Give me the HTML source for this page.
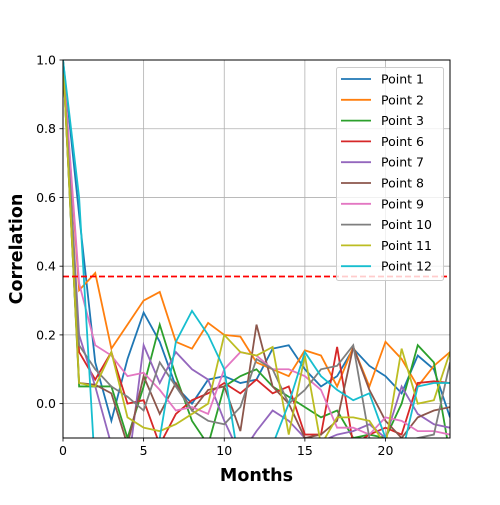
<!DOCTYPE html>
<html><head><meta charset="utf-8"><style>
body{margin:0;background:#fff}
svg text{font-family:"DejaVu Sans","Liberation Sans",sans-serif}
</style></head><body>
<svg id="c" width="500" height="500" xmlns="http://www.w3.org/2000/svg">
<defs><clipPath id="clip"><rect x="63" y="60" width="387" height="378"/></clipPath></defs>
<g id="grid"></g>
<g id="series" clip-path="url(#clip)"></g>
<g id="axes"></g>
<g id="legend"></g>
</svg>
<script>
const xTicks=[0,5,10,15,20];
const yTicks=[0.0,0.2,0.4,0.6,0.8,1.0];
const yTickLabels=["0.0","0.2","0.4","0.6","0.8","1.0"];
const threshold=0.37;
const names=["Point 1","Point 2","Point 3","Point 6","Point 7","Point 8","Point 9","Point 10","Point 11","Point 12"];
const colors=["#1f77b4","#ff7f0e","#2ca02c","#d62728","#9467bd","#8c564b","#e377c2","#7f7f7f","#bcbd22","#17becf"];
const s1=[1.0,0.55,0.12,-0.05,0.13,0.265,0.18,0.05,0.0,0.07,0.08,0.06,0.07,0.16,0.17,0.10,0.05,0.08,0.16,0.11,0.08,0.03,0.14,0.10,-0.04];
const s2=[1.0,0.33,0.38,0.16,0.23,0.30,0.325,0.18,0.16,0.235,0.20,0.195,0.12,0.10,0.08,0.155,0.14,0.05,0.165,0.05,0.18,0.13,0.05,0.11,0.15];
const s3=[1.0,0.05,0.05,0.05,-0.1,0.05,0.23,0.08,-0.05,-0.12,0.05,0.08,0.10,0.05,0.02,-0.01,-0.04,-0.02,-0.10,-0.09,-0.10,0.0,0.17,0.12,-0.15];
const s6=[1.0,0.15,0.07,0.15,0.0,0.01,-0.12,-0.03,0.01,0.03,0.06,0.03,0.07,0.03,0.05,-0.09,-0.09,0.165,-0.12,-0.09,-0.07,-0.09,0.06,0.065,0.06];
const s7=[1.0,0.2,0.05,-0.12,-0.2,0.17,0.06,0.15,0.10,0.07,-0.05,-0.15,-0.08,-0.02,-0.05,-0.10,-0.11,-0.09,-0.08,-0.06,-0.10,0.05,-0.03,-0.06,-0.07];
const s8=[1.0,0.06,0.055,0.03,-0.12,0.08,-0.03,0.06,-0.02,0.04,0.05,-0.08,0.23,0.05,0.0,-0.1,-0.09,-0.05,0.165,0.04,-0.05,-0.1,-0.04,-0.02,-0.01];
const s9=[1.0,0.35,0.17,0.14,0.08,0.09,0.04,-0.02,-0.01,-0.03,0.10,0.15,0.14,0.10,0.10,0.08,0.04,-0.07,-0.07,-0.09,-0.04,-0.05,-0.08,-0.08,-0.09];
const s10=[1.0,0.17,0.1,0.05,0.02,-0.02,0.12,0.05,-0.02,-0.05,-0.06,-0.01,0.13,0.10,0.0,0.04,0.10,0.11,0.17,-0.10,-0.15,-0.11,-0.10,-0.09,0.12];
const s11=[1.0,0.06,0.05,0.15,-0.04,-0.07,-0.08,-0.06,-0.03,0.0,0.20,0.15,0.14,0.165,-0.09,0.14,-0.12,-0.04,-0.04,-0.05,-0.12,0.16,0.0,0.01,0.15];
const s12=[1.0,0.6,-0.2,-0.2,-0.2,-0.2,-0.1,0.18,0.27,0.20,0.10,-0.2,-0.15,-0.12,0.0,0.15,0.08,0.04,0.01,0.03,-0.1,-0.15,0.05,0.06,0.06];
const series=[s1,s2,s3,s6,s7,s8,s9,s10,s11,s12];
const X0=63,X1=450,Y0=438,Y1=60,xmin=0,xmax=24,ymin=-0.1,ymax=1.0;
const sx=v=>X0+(v-xmin)/(xmax-xmin)*(X1-X0);
const sy=v=>Y0-(v-ymin)/(ymax-ymin)*(Y0-Y1);
const NS="http://www.w3.org/2000/svg";
function mk(tag,attrs,parent){const e=document.createElementNS(NS,tag);for(const k in attrs)e.setAttribute(k,attrs[k]);parent.appendChild(e);return e;}
const grid=document.getElementById('grid'),axes=document.getElementById('axes'),ser=document.getElementById('series'),leg=document.getElementById('legend');
xTicks.forEach(t=>{const x=sx(t);
 const g=mk('line',{x1:x,x2:x,y1:Y1,y2:Y0,stroke:'#b0b0b0','stroke-width':0.8},grid);
 
 
 mk('line',{x1:x,x2:x,y1:Y0,y2:Y0+3.5,stroke:'#000','stroke-width':0.8},axes);
 const tx=mk('text',{x:x,y:Y0+17,'font-size':12.5,'text-anchor':'middle'},axes);tx.textContent=t;
 
 
});
yTicks.forEach((t,i)=>{const y=sy(t);
 const g=mk('line',{x1:X0,x2:X1,y1:y,y2:y,stroke:'#b0b0b0','stroke-width':0.8},grid);
 
 
 mk('line',{x1:X0-3.5,x2:X0,y1:y,y2:y,stroke:'#000','stroke-width':0.8},axes);
 const tx=mk('text',{x:X0-7,y:y+4.5,'font-size':12.5,'text-anchor':'end'},axes);tx.textContent=yTickLabels[i];
 
 
});
series.forEach((d,i)=>{
 const p=mk('polyline',{points:d.map((v,j)=>sx(j)+','+sy(v)).join(' '),fill:'none',stroke:colors[i],'stroke-width':1.8},ser);
 
 
});
const th=mk('line',{x1:X0,x2:X1,y1:sy(threshold),y2:sy(threshold),stroke:'#ff0000','stroke-width':1.8,'stroke-dasharray':'6,3'},ser);


const fr=mk('rect',{x:X0,y:Y1,width:X1-X0,height:Y0-Y1,fill:'none',stroke:'#000','stroke-width':1},axes);


const xl=mk('text',{x:(X0+X1)/2,y:481,'font-size':17.5,'font-weight':'bold','text-anchor':'middle'},axes);xl.textContent='Months';


const yl=mk('text',{x:22,y:(Y0+Y1)/2,'font-size':17.5,'font-weight':'bold','text-anchor':'middle',transform:'rotate(-90 22 '+((Y0+Y1)/2)+')'},axes);yl.textContent='Correlation';


const lb=mk('rect',{x:336.5,y:67.5,width:107,height:213,rx:2,fill:'#fff','fill-opacity':0.8,stroke:'#cccccc','stroke-width':1},leg);


names.forEach((n,i)=>{const y=79+i*20.8;
 const g=mk('g',{},leg);
 
 
 mk('line',{x1:341,x2:371,y1:y,y2:y,stroke:colors[i],'stroke-width':1.8},g);
 const t=mk('text',{x:381,y:y+4.5,'font-size':12.5},g);t.textContent=n;
});
</script>
</body></html>
